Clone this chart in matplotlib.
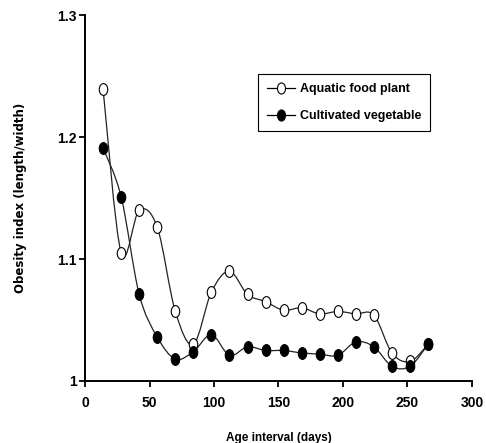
import numpy as np
import matplotlib
matplotlib.use("Agg")
import matplotlib.pyplot as plt
from matplotlib.path import Path
from matplotlib.patches import PathPatch
from matplotlib.transforms import Affine2D
from matplotlib.lines import Line2D

days = [14, 28, 42, 56, 70, 84, 98, 112, 126, 140, 154, 168, 182, 196, 210, 224, 238, 252, 266]
aquatic = [1.239, 1.105, 1.140, 1.126, 1.057, 1.030, 1.073, 1.090, 1.071, 1.065, 1.058, 1.060,
           1.055, 1.057, 1.055, 1.054, 1.023, 1.016, 1.030]
cultivated = [1.191, 1.151, 1.071, 1.036, 1.018, 1.024, 1.038, 1.021, 1.028, 1.025, 1.025, 1.023,
              1.022, 1.021, 1.032, 1.028, 1.012, 1.012, 1.030]
series_names = ["Aquatic food plant", "Cultivated vegetable"]
xticks = [0, 50, 100, 150, 200, 250, 300]
yticks = [1.0, 1.1, 1.2, 1.3]
ytick_labels = ["1", "1.1", "1.2", "1.3"]

NARROW = ["Liberation Sans Narrow", "Liberation Sans", "DejaVu Sans"]


def smooth_path(xs, ys):
    """Cubic Bezier path (Excel-like smoothing) through the data points."""
    pts = np.column_stack([xs, ys]).astype(float)
    n = len(pts)
    verts = [pts[0]]
    codes = [Path.MOVETO]
    for i in range(n - 1):
        p0 = pts[i - 1] if i > 0 else pts[i]
        p1 = pts[i]
        p2 = pts[i + 1]
        p3 = pts[i + 2] if i + 2 < n else pts[i + 1]
        c1 = p1 + (p2 - p0) / 6.0
        c2 = p2 - (p3 - p1) / 6.0
        verts += [c1, c2, p2]
        codes += [Path.CURVE4] * 3
    return Path(verts, codes)


ellipse = Path.unit_circle().transformed(Affine2D().scale(0.72, 1.0))

fig = plt.figure(figsize=(4.86, 4.43), dpi=100)
ax = fig.add_axes([0.175, 0.14, 0.796, 0.826])

for ys, face in [(aquatic, "white"), (cultivated, "black")]:
    patch = PathPatch(smooth_path(days, ys), facecolor="none", edgecolor="#222222",
                      lw=0.9, zorder=2)
    ax.add_patch(patch)
    ax.plot(days, ys, linestyle="none", marker=ellipse, markersize=8.5,
            markerfacecolor=face, markeredgecolor="black", markeredgewidth=0.8, zorder=3)

ax.set_xlim(0, 300)
ax.set_ylim(1.0, 1.3)
ax.set_xticks(xticks)
ax.set_yticks(yticks)
ax.set_yticklabels(ytick_labels)
for lab in ax.get_xticklabels() + ax.get_yticklabels():
    lab.set_family(NARROW)
    lab.set_fontweight("bold")
    lab.set_fontsize(10)
ax.tick_params(direction="out", length=4, width=1.3)
ax.tick_params(axis="x", pad=7)
ax.tick_params(axis="y", pad=2)
ax.spines["top"].set_visible(False)
ax.spines["right"].set_visible(False)
for s in ["left", "bottom"]:
    ax.spines[s].set_linewidth(1.4)

ax.set_xlabel("Age interval (days)", family=NARROW, fontweight="bold", fontsize=8.5, labelpad=16)
ax.set_ylabel("Obesity index (length/width)", family="DejaVu Sans", fontweight="bold",
              fontsize=8.5, labelpad=22)

handles = [
    Line2D([], [], color="black", lw=0.9, marker=ellipse, markersize=8,
           markerfacecolor="white", markeredgecolor="black", markeredgewidth=0.8),
    Line2D([], [], color="black", lw=0.9, marker=ellipse, markersize=8,
           markerfacecolor="black", markeredgecolor="black", markeredgewidth=0.8),
]
leg = ax.legend(handles, series_names, loc="upper left", bbox_to_anchor=(0.448, 0.838),
                frameon=True, fancybox=False, edgecolor="black", framealpha=1,
                prop={"family": NARROW, "weight": "bold", "size": 9},
                handlelength=2.2, handletextpad=0.4, labelspacing=1.2, borderpad=0.7,
                borderaxespad=0)
leg.get_frame().set_linewidth(0.8)

fig.savefig("out.png", dpi=100)
